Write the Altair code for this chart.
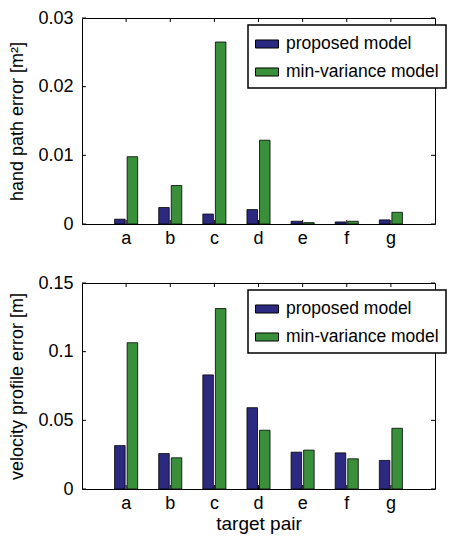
import altair as alt
import pandas as pd

pairs = ["a", "b", "c", "d", "e", "f", "g"]
models = ["proposed model", "min-variance model"]
colors = ["#2c2a80", "#3a903a"]

path_proposed = [0.0007, 0.0024, 0.00145, 0.0021, 0.0004, 0.0003, 0.0006]
path_minvar = [0.0098, 0.0056, 0.0265, 0.0122, 0.0002, 0.0004, 0.0017]
vel_proposed = [0.0316, 0.0258, 0.0831, 0.0592, 0.0268, 0.0263, 0.0208]
vel_minvar = [0.1065, 0.0227, 0.1314, 0.0428, 0.0283, 0.0220, 0.0442]

path_ticks = [0, 0.01, 0.02, 0.03]
vel_ticks = [0, 0.05, 0.1, 0.15]

W, H = 353, 206
FONT = "Liberation Sans"
TL = 4  # inward tick length


def long_df(a, b):
    rows = []
    for p, va, vb in zip(pairs, a, b):
        rows.append({"pair": p, "model": models[0], "value": va})
        rows.append({"pair": p, "model": models[1], "value": vb})
    return pd.DataFrame(rows)


def panel(df, ytitle, yticks, xtitle):
    ymax = yticks[-1]
    xscale = alt.Scale(domain=pairs, paddingInner=0, paddingOuter=0.5)
    yscale = alt.Scale(domain=[0, ymax], nice=False, zero=True)
    xaxis = alt.Axis(
        title=xtitle, labelAngle=0, ticks=False, domain=False, labelPadding=5,
        labelFontSize=18, titleFontSize=19, titleFontWeight="normal", titlePadding=2,
    )
    yaxis = alt.Axis(
        title=ytitle, values=yticks, format=".2~f", grid=False, ticks=False, domain=False,
        labelPadding=9, labelFontSize=18, titleFontSize=18, titleFontWeight="normal",
        titlePadding=11,
    )
    X = lambda: alt.X("pair:N", scale=xscale, axis=xaxis, sort=pairs)
    Y = lambda: alt.Y("value:Q", scale=yscale, axis=yaxis)
    bars = alt.Chart(df).mark_bar(stroke="black", strokeWidth=0.8).encode(
        x=X(),
        xOffset=alt.XOffset("model:N", sort=models,
                            scale=alt.Scale(domain=models, paddingInner=0.16, paddingOuter=0.84)),
        y=Y(),
        color=alt.Color(
            "model:N", sort=models, scale=alt.Scale(domain=models, range=colors),
            legend=alt.Legend(
                title=None, orient="none", legendX=166, legendY=7, direction="vertical",
                strokeColor="black", fillColor="white", padding=7,
                labelFontSize=17.5, labelFont=FONT, labelColor="black", labelOffset=7,
                labelLimit=400,
                symbolType="M-1,-0.35L1,-0.35L1,0.35L-1,0.35Z", symbolSize=529,
                symbolStrokeColor="black", symbolStrokeWidth=1, symbolOpacity=1,
                rowPadding=7,
            ),
        ),
    )
    ydf = pd.DataFrame({"value": yticks})
    xdf = pd.DataFrame({"pair": pairs})
    yl = alt.Chart(ydf).mark_rule(color="black", strokeWidth=1).encode(
        y=Y(), x=alt.value(0), x2=alt.value(TL))
    yr = alt.Chart(ydf).mark_rule(color="black", strokeWidth=1).encode(
        y=Y(), x=alt.value(W - TL), x2=alt.value(W))
    xb = alt.Chart(xdf).mark_rule(color="black", strokeWidth=1).encode(
        x=X(), y=alt.value(H), y2=alt.value(H - TL))
    xt = alt.Chart(xdf).mark_rule(color="black", strokeWidth=1).encode(
        x=X(), y=alt.value(0), y2=alt.value(TL))
    return alt.layer(bars, yl, yr, xb, xt).properties(width=W, height=H)


top = panel(long_df(path_proposed, path_minvar), "hand path error [m²]", path_ticks, None)
bottom = panel(long_df(vel_proposed, vel_minvar), "velocity profile error [m]", vel_ticks, "target pair")

chart = (
    alt.vconcat(top, bottom, spacing=25)
    .resolve_scale(color="independent")
    .resolve_legend(color="independent")
    .properties(padding={"left": 0, "top": 0, "right": 0, "bottom": 0})
    .configure_view(stroke="black", strokeWidth=1)
    .configure_axis(labelFont=FONT, titleFont=FONT, labelColor="black", titleColor="black")
    .configure_legend(strokeWidth=1.5)
)

chart.save("out.html", embed_options={"renderer": "svg", "actions": False})
